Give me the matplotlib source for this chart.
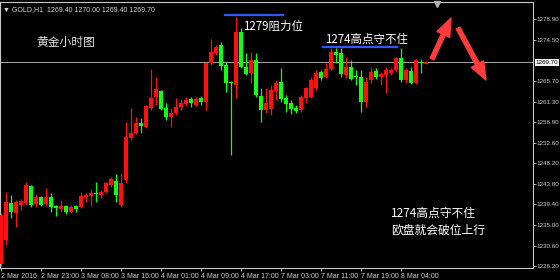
import numpy as np
import matplotlib
matplotlib.use('Agg')
import matplotlib.pyplot as plt

plt.rcParams['font.family'] = ['DejaVu Sans', 'Noto Sans CJK SC']

# GOLD H1, 2 Mar 2016 15:00 .. 8 Mar 2016
opens = [1226.6, 1231.8, 1239.7, 1237.6, 1239.3, 1239.7, 1243.3, 1239.5, 1241.0, 1239.5,
         1241.0, 1239.0, 1238.4, 1239.1, 1237.8, 1239.0, 1238.8, 1241.0, 1241.2, 1241.9,
         1241.4, 1242.0, 1243.5, 1244.4, 1239.3, 1244.6, 1253.6, 1254.6, 1256.8, 1255.9,
         1260.0, 1262.3, 1263.6, 1260.0, 1258.1, 1258.9, 1260.2, 1260.85, 1261.9, 1260.6,
         1262.1, 1261.3, 1269.6, 1271.7, 1273.4, 1269.2, 1265.5, 1264.9, 1276.2, 1268.7,
         1267.5, 1270.2, 1262.5, 1259.55, 1259.8, 1263.6, 1265.5, 1262.1, 1261.05, 1260.0,
         1259.55, 1262.1, 1262.3, 1264.25, 1267.7, 1266.6, 1268.3, 1271.9, 1271.7, 1267.0,
         1268.7, 1266.8, 1266.6, 1261.3, 1266.0, 1267.9, 1266.6, 1267.0, 1267.5, 1268.1,
         1270.7, 1266.0, 1267.9, 1265.3, 1269.8, 1269.4]
highs = [1237.5, 1242.0, 1241.4, 1240.3, 1240.5, 1244.2, 1243.5, 1241.6, 1241.2, 1242.9,
         1241.8, 1239.3, 1240.3, 1239.3, 1239.3, 1239.3, 1242.0, 1241.8, 1242.7, 1244.2,
         1242.5, 1244.2, 1245.2, 1245.9, 1246.1, 1257.0, 1260.0, 1258.1, 1257.85, 1260.6,
         1268.3, 1266.6, 1263.8, 1261.05, 1260.0, 1262.1, 1261.9, 1262.3, 1262.3, 1262.3,
         1262.5, 1269.8, 1274.7, 1273.4, 1274.1, 1269.8, 1265.75, 1279.4, 1277.1, 1271.7,
         1271.9, 1271.7, 1264.25, 1264.25, 1264.9, 1266.0, 1268.5, 1262.8, 1261.7, 1260.6,
         1262.8, 1264.5, 1266.6, 1268.1, 1268.1, 1269.6, 1272.8, 1272.8, 1272.8, 1270.9,
         1270.2, 1268.1, 1268.1, 1266.6, 1268.7, 1268.5, 1267.7, 1268.7, 1268.5, 1270.9,
         1272.8, 1268.5, 1268.7, 1270.45, 1270.45, 1270.0]
lows = [1226.0, 1230.7, 1236.5, 1234.6, 1238.2, 1239.3, 1238.8, 1238.8, 1239.0, 1239.0,
        1237.8, 1236.9, 1237.8, 1237.3, 1237.5, 1237.8, 1238.6, 1239.8, 1239.0, 1240.0,
        1240.8, 1241.8, 1243.1, 1239.8, 1238.8, 1244.0, 1253.1, 1254.4, 1254.6, 1255.7,
        1259.55, 1260.6, 1259.55, 1257.4, 1255.9, 1258.5, 1259.55, 1260.4, 1260.2, 1260.4,
        1260.6, 1259.55, 1269.2, 1271.3, 1268.1, 1263.4, 1249.9, 1262.1, 1268.5, 1267.0,
        1265.3, 1262.3, 1257.0, 1258.9, 1258.5, 1261.7, 1261.3, 1259.1, 1258.7, 1258.9,
        1259.1, 1261.05, 1262.1, 1263.8, 1266.0, 1266.4, 1268.1, 1269.6, 1266.6, 1266.4,
        1266.0, 1264.9, 1259.1, 1260.2, 1265.3, 1266.2, 1264.9, 1263.2, 1267.0, 1267.7,
        1265.5, 1265.3, 1265.1, 1265.1, 1267.5, 1269.4]
closes = [1237.1, 1239.9, 1237.8, 1239.9, 1240.1, 1243.5, 1239.3, 1241.0, 1239.3, 1241.0,
          1238.8, 1238.6, 1239.1, 1237.8, 1238.8, 1238.4, 1241.2, 1241.4, 1241.8, 1241.6,
          1242.0, 1244.0, 1244.8, 1241.4, 1243.9, 1253.8, 1254.6, 1256.8, 1256.1, 1260.4,
          1262.1, 1264.0, 1259.8, 1258.1, 1258.9, 1260.2, 1261.05, 1261.7, 1261.05, 1261.9,
          1261.3, 1269.6, 1271.9, 1273.0, 1269.0, 1265.3, 1265.3, 1276.2, 1268.7, 1267.2,
          1270.2, 1262.8, 1259.55, 1261.05, 1263.8, 1265.3, 1261.9, 1260.85, 1259.8, 1259.3,
          1262.3, 1264.25, 1266.0, 1267.5, 1266.4, 1268.3, 1271.9, 1271.3, 1267.2, 1268.7,
          1266.2, 1266.6, 1261.3, 1265.5, 1267.7, 1266.6, 1267.2, 1268.1, 1268.1, 1270.7,
          1266.0, 1268.1, 1265.3, 1270.2, 1269.6, 1269.7]

x_ticks = [0, 8, 16, 24, 32, 40, 48, 56, 64, 72, 80]
x_labels = ['2 Mar 2016', '2 Mar 23:00', '3 Mar 08:00', '3 Mar 16:00', '4 Mar 01:00',
            '4 Mar 09:00', '4 Mar 17:00', '7 Mar 03:00', '7 Mar 11:00', '7 Mar 19:00',
            '8 Mar 04:00']
y_ticks = [1278.90, 1274.50, 1265.70, 1261.30, 1256.90, 1252.60, 1248.20, 1243.80,
           1239.40, 1235.00, 1230.60, 1226.20]
last_price = 1269.70
resist_level = 1279.85
high_level = 1273.1

cjk = ['Noto Sans CJK SC', 'DejaVu Sans']
small = 'Liberation Sans'
UP = '#ff1010'
DOWN = '#10ff10'

fig = plt.figure(figsize=(5.6, 2.8), dpi=100, facecolor='black')
ax = fig.add_axes([0, 12 / 280, 533 / 560, 266 / 280], facecolor='black')

o = np.array(opens)
h = np.array(highs)
l = np.array(lows)
c = np.array(closes)
idx = np.arange(len(o))
colors = [UP if cc >= oo else DOWN for oo, cc in zip(o, c)]

ax.vlines(idx, l, h, colors=colors, linewidth=0.9, zorder=3)
body_h = np.maximum(np.abs(c - o), 0.25)
ax.bar(idx, body_h, bottom=np.minimum(o, c), width=0.62, color=colors,
       linewidth=0, zorder=4)

ax.axhline(last_price, color='#a8a8a8', linewidth=0.7, zorder=2)

# blue marker lines and notes
ax.plot([44.8, 56.4], [resist_level, resist_level], color='#3355ff', linewidth=1.6, zorder=5)
ax.plot([64.4, 79.2], [high_level, high_level], color='#3355ff', linewidth=1.6, zorder=5)
ax.text(48.4, 1277.4, '1279阻力位', family=cjk, fontsize=8.3, color='white',
        va='center', ha='left', zorder=6)
ax.text(64.8, 1274.7, '1274高点守不住', family=cjk, fontsize=8.3, color='white',
        va='center', ha='left', zorder=6)
ax.text(7, 1273.9, '黄金小时图', family=cjk, fontsize=8.5, color='#e0e0e0',
        va='center', ha='left')
ax.text(78, 1237.6, '1274高点守不住', family=cjk, fontsize=8.5, color='white',
        va='center', ha='left')
ax.text(78, 1233.8, '欧盘就会破位上行', family=cjk, fontsize=8.5, color='white',
        va='center', ha='left')

# red arrows
ax.annotate('', xy=(90.0, 1279.2), xytext=(86.2, 1270.45),
            arrowprops=dict(arrowstyle='simple,head_length=1.3,head_width=1.0,tail_width=0.3',
                            color='#ff3b3b', mutation_scale=10, shrinkA=0, shrinkB=0))
ax.annotate('', xy=(97.0, 1265.96), xytext=(91.4, 1277.07),
            arrowprops=dict(arrowstyle='simple,head_length=1.3,head_width=1.0,tail_width=0.3',
                            color='#ff3b3b', mutation_scale=10, shrinkA=0, shrinkB=0))

# chart shift marker and header
ax.plot([87.2], [1282.1], marker='v', markersize=4, color='#b0b0b0', clip_on=False, zorder=6)
ax.text(0.006, 0.985, '▼ GOLD,H1  1269.40 1270.00 1269.40 1269.70', transform=ax.transAxes,
        family=[small, 'DejaVu Sans'], fontsize=5, color='#d8d8d8', va='top', ha='left')

ax.set_xlim(-0.2, -0.2 + 533 / 5)
ax.set_ylim(1225.81, 1282.62)

ax.yaxis.tick_right()
ax.set_yticks(y_ticks)
ax.set_yticklabels([f'{v:.2f}' for v in y_ticks])
ax.set_xticks(x_ticks)
ax.set_xticklabels(x_labels, ha='left')
ax.tick_params(axis='both', colors='#d0d0d0', labelsize=5, length=2.5, width=0.6, pad=1.2)
ax.tick_params(axis='y', labelsize=4.5, length=2, pad=0.8)
for lab in ax.get_xticklabels() + ax.get_yticklabels():
    lab.set_family(small)

ax.text(1.005, last_price, f'{last_price:.2f}', transform=ax.get_yaxis_transform(),
        family=small, fontsize=4.5, color='black', va='center', ha='left',
        bbox=dict(boxstyle='square,pad=0.12', facecolor='#f0f0f0', edgecolor='none'))

for s in ax.spines.values():
    s.set_color('#c8c8c8')
    s.set_linewidth(0.8)

fig.savefig('out.png', dpi=100, facecolor='black')
